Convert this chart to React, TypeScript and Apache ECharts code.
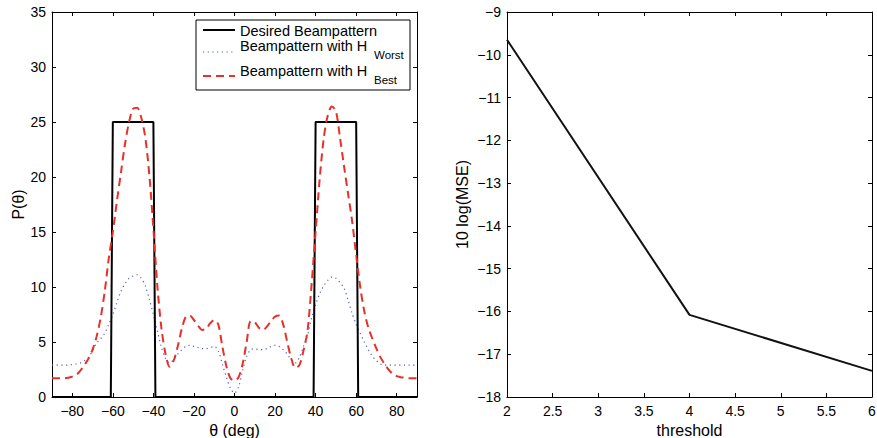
import React, { useEffect, useRef } from "react";
import * as echarts from "echarts";

const theta = [
  -90, -88, -86, -84, -82, -80, -78, -76, -74, -72, -70, -68, -66, -64, -62, -60,
  -58, -56, -54, -52, -50, -48, -46, -44, -42, -40, -38, -36, -34, -32, -30, -28,
  -26, -24, -22, -20, -18, -16, -14, -12, -10, -8, -6, -4, -2, 0, 2, 4, 6, 8, 10,
  12, 14, 16, 18, 20, 22, 24, 26, 28, 30, 32, 34, 36, 38, 40, 42, 44, 46, 48, 50,
  52, 54, 56, 58, 60, 62, 64, 66, 68, 70, 72, 74, 76, 78, 80, 82, 84, 86, 88, 90,
];

const bestP = [
  1.7, 1.7, 1.7, 1.7, 1.75, 1.85, 2.0, 2.4, 2.9, 3.5, 4.3, 5.5, 7.2, 9.6, 12.6, 15.0,
  17.8, 20.4, 23.0, 25.0, 26.2, 26.3, 25.4, 23.6, 20.2, 15.3, 10.0, 6.2, 3.9, 2.75, 3.3, 4.6,
  6.2, 7.3, 7.4, 7.0, 6.5, 6.1, 6.2, 6.7, 7.0, 6.6, 4.6, 2.8, 1.7, 1.5, 1.8, 3.0, 5.0, 6.9, 6.8,
  6.3, 6.1, 6.4, 6.9, 7.3, 7.4, 6.6, 5.0, 3.5, 2.65, 2.9, 4.2, 6.0, 10.2, 15.0, 19.8, 23.5, 25.6, 26.4, 26.0,
  23.6, 21.0, 18.5, 16.0, 12.9, 10.0, 7.8, 6.3, 5.3, 4.4, 3.6, 3.0, 2.5, 2.1, 1.9, 1.8, 1.75, 1.7, 1.7, 1.7,
];

const worstP = [
  2.9, 2.9, 2.9, 2.9, 2.9, 2.95, 3.0, 3.1, 3.3, 3.6, 4.2, 4.9, 5.3, 5.8, 6.6, 7.5,
  8.6, 9.6, 10.3, 10.8, 11.0, 11.1, 10.8, 10.1, 8.9, 7.5, 6.0, 4.5, 3.5, 3.1, 3.4, 3.9,
  4.3, 4.6, 4.7, 4.6, 4.5, 4.4, 4.4, 4.5, 4.6, 4.2, 3.0, 1.8, 0.8, 0.35, 0.9, 2.4, 3.7, 4.3, 4.4,
  4.3, 4.3, 4.4, 4.6, 4.7, 4.6, 4.3, 3.9, 3.4, 3.1, 3.6, 4.6, 5.6, 7.2, 8.4, 9.4, 10.1, 10.6, 10.9, 10.8,
  10.4, 9.9, 8.8, 7.6, 6.6, 5.8, 5.0, 4.3, 3.7, 3.3, 3.0, 2.9, 2.9, 2.9, 2.9, 2.9, 2.9, 2.9, 2.9, 2.9,
];

const desiredTheta = [-90, -61, -60, -40, -39, 39, 40, 60, 61, 90];
const desiredP = [0, 0, 25, 25, 0, 0, 25, 25, 0, 0];

const thresholds = [2, 4, 6];
const mseDb = [-9.65, -16.08, -17.39];

const thetaTicks = [-80, -60, -40, -20, 0, 20, 40, 60, 80];

const legendNames = ["Desired Beampattern", "Beampattern with H", "Beampattern with H"];
const legendSubs = ["", "Worst", "Best"];

const FONT = "'Liberation Sans', Arial, Helvetica, sans-serif";
const minus = (v: number) => String(v).replace("-", "\u2212");

export default function App() {
  const ref = useRef<HTMLDivElement>(null);
  useEffect(() => {
    if (!ref.current) return;
    const chart = echarts.init(ref.current, undefined, { renderer: "svg" });
    const axisLine = { show: true, onZero: false, lineStyle: { color: "#000", width: 1 } };
    const tick = { show: true, inside: true, length: 4, lineStyle: { color: "#000", width: 1 } };
    const label = { color: "#000", fontSize: 14, fontFamily: FONT, formatter: minus };
    const nameStyle = { color: "#000", fontSize: 16, fontFamily: FONT };
    const txt = (text: string, x: number, y: number, size: number) => ({
      type: "text", x, y,
      style: {
        text, fill: "#000", fontSize: size, fontFamily: FONT,
        font: `${size}px ${FONT}`, verticalAlign: "middle", align: "left",
      },
    });

    const option: any = {
      animation: false,
      backgroundColor: "#fff",
      textStyle: { fontFamily: FONT },
      grid: [
        { left: 52, top: 12, width: 365, height: 385, outerBoundsMode: "none" },
        { left: 507, top: 12, width: 365, height: 385, outerBoundsMode: "none" },
      ],
      xAxis: [
        {
          gridIndex: 0, type: "value", min: -90, max: 90, position: "bottom",
          axisLine, axisTick: { ...tick, customValues: thetaTicks },
          axisLabel: { ...label, margin: 7, customValues: thetaTicks },
          splitLine: { show: false },
          name: "θ (deg)", nameLocation: "middle", nameGap: 19, nameTextStyle: nameStyle,
        },
        {
          gridIndex: 0, type: "value", min: -90, max: 90, position: "top",
          axisLine, axisTick: { ...tick, customValues: thetaTicks },
          axisLabel: { show: false }, splitLine: { show: false },
        },
        {
          gridIndex: 1, type: "value", min: 2, max: 6, interval: 0.5, position: "bottom",
          axisLine, axisTick: tick, axisLabel: { ...label, margin: 7 },
          splitLine: { show: false },
          name: "threshold", nameLocation: "middle", nameGap: 19, nameTextStyle: nameStyle,
        },
        {
          gridIndex: 1, type: "value", min: 2, max: 6, interval: 0.5, position: "top",
          axisLine, axisTick: tick, axisLabel: { show: false }, splitLine: { show: false },
        },
      ],
      yAxis: [
        {
          gridIndex: 0, type: "value", min: 0, max: 35, interval: 5, position: "left",
          axisLine, axisTick: tick, axisLabel: { ...label, margin: 6 },
          splitLine: { show: false },
          name: "P(θ)", nameLocation: "middle", nameGap: 26, nameTextStyle: nameStyle,
        },
        {
          gridIndex: 0, type: "value", min: 0, max: 35, interval: 5, position: "right",
          axisLine, axisTick: tick, axisLabel: { show: false }, splitLine: { show: false },
        },
        {
          gridIndex: 1, type: "value", min: -18, max: -9, interval: 1, position: "left",
          axisLine, axisTick: tick, axisLabel: { ...label, margin: 6 },
          splitLine: { show: false },
          name: "10 log(MSE)", nameLocation: "middle", nameGap: 37, nameTextStyle: nameStyle,
        },
        {
          gridIndex: 1, type: "value", min: -18, max: -9, interval: 1, position: "right",
          axisLine, axisTick: tick, axisLabel: { show: false }, splitLine: { show: false },
        },
      ],
      series: [
        {
          type: "line", xAxisIndex: 0, yAxisIndex: 0, name: "Desired Beampattern",
          data: desiredTheta.map((t, i) => [t, desiredP[i]]),
          showSymbol: false, lineStyle: { color: "#000", width: 2 }, z: 3,
        },
        {
          type: "line", xAxisIndex: 0, yAxisIndex: 0, name: "Worst",
          data: theta.map((t, i) => [t, worstP[i]]),
          showSymbol: false, smooth: 0.3,
          lineStyle: { color: "#4f5fc8", width: 1.2, type: [1.2, 3.5] }, z: 2,
        },
        {
          type: "line", xAxisIndex: 0, yAxisIndex: 0, name: "Best",
          data: theta.map((t, i) => [t, bestP[i]]),
          showSymbol: false, smooth: 0.3,
          lineStyle: { color: "#e8302a", width: 2, type: [8, 5] }, z: 4,
        },
        {
          type: "line", xAxisIndex: 2, yAxisIndex: 2, name: "MSE",
          data: thresholds.map((t, i) => [t, mseDb[i]]),
          showSymbol: false, lineStyle: { color: "#111", width: 2 },
        },
      ],
      graphic: [
        {
          type: "group", z: 100,
          children: [
            {
              type: "rect", shape: { x: 196, y: 20, width: 214, height: 70 },
              style: { fill: "#fff", stroke: "#000", lineWidth: 1 },
            },
            {
              type: "line", shape: { x1: 203, y1: 30, x2: 235, y2: 30 },
              style: { stroke: "#000", lineWidth: 2 },
            },
            {
              type: "line", shape: { x1: 203, y1: 52, x2: 235, y2: 52 },
              style: { stroke: "#4f5fc8", lineWidth: 1.2, lineDash: [1.2, 3.5] },
            },
            {
              type: "line", shape: { x1: 203, y1: 76, x2: 235, y2: 76 },
              style: { stroke: "#e8302a", lineWidth: 2, lineDash: [8, 5] },
            },
            txt(legendNames[0], 240, 30.5, 14.5),
            txt(legendNames[1], 240, 45.5, 14.5),
            txt(legendSubs[1], 374, 54.5, 11.5),
            txt(legendNames[2], 240, 71, 14.5),
            txt(legendSubs[2], 374, 79.5, 11.5),
          ],
        },
      ],
    };
    chart.setOption(option);
    return () => chart.dispose();
  }, []);
  return (
    <div
      ref={ref}
      style={{ position: "fixed", left: 0, top: 0, width: 877, height: 438, background: "#fff" }}
    />
  );
}
